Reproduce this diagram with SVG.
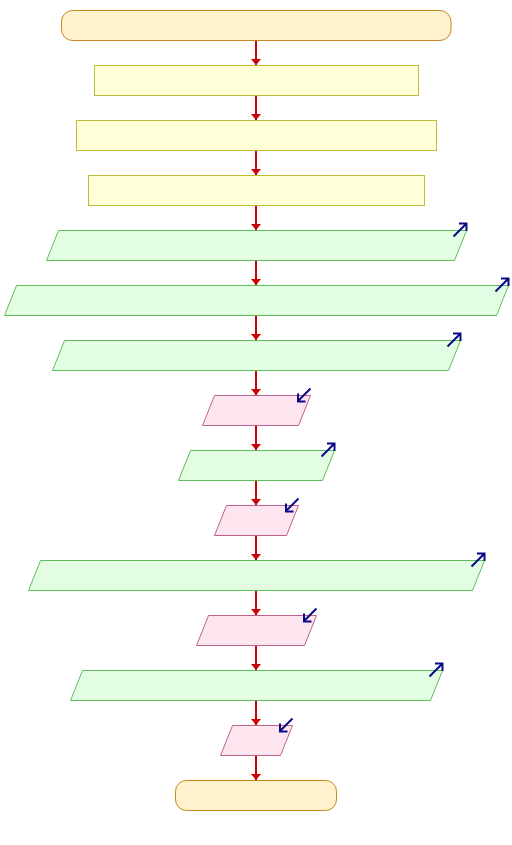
<svg xmlns="http://www.w3.org/2000/svg" width="512" height="845" viewBox="0 0 512 845">
<style>
.term{fill:#fff2cc;stroke:#c8861e;stroke-width:1}
.proc{fill:#ffffd8;stroke:#bdbd3a;stroke-width:1}
.out{fill:#e2fde2;stroke:#5cbf5c;stroke-width:1}
.in{fill:#fde5f0;stroke:#c0608c;stroke-width:1}
.io{stroke:#0a0a88;stroke-width:2;fill:none;stroke-linecap:butt}
.edge{stroke:#cc0000;stroke-width:2;fill:none}
</style>
<defs>
<marker id="ah" markerWidth="6" markerHeight="10" refX="6" refY="5" orient="auto" markerUnits="userSpaceOnUse">
<path d="M0,0 L6,5 L0,10 Z" fill="#cc0000"/>
</marker>
</defs>
<rect width="512" height="845" fill="#ffffff"/>
<g id="connectors">
<line class="edge" x1="256" y1="40.5" x2="256" y2="65" marker-end="url(#ah)"/>
<line class="edge" x1="256" y1="95.5" x2="256" y2="120" marker-end="url(#ah)"/>
<line class="edge" x1="256" y1="150.5" x2="256" y2="175" marker-end="url(#ah)"/>
<line class="edge" x1="256" y1="205.5" x2="256" y2="230" marker-end="url(#ah)"/>
<line class="edge" x1="256" y1="260.5" x2="256" y2="285" marker-end="url(#ah)"/>
<line class="edge" x1="256" y1="315.5" x2="256" y2="340" marker-end="url(#ah)"/>
<line class="edge" x1="256" y1="370.5" x2="256" y2="395" marker-end="url(#ah)"/>
<line class="edge" x1="256" y1="425.5" x2="256" y2="450" marker-end="url(#ah)"/>
<line class="edge" x1="256" y1="480.5" x2="256" y2="505" marker-end="url(#ah)"/>
<line class="edge" x1="256" y1="535.5" x2="256" y2="560" marker-end="url(#ah)"/>
<line class="edge" x1="256" y1="590.5" x2="256" y2="615" marker-end="url(#ah)"/>
<line class="edge" x1="256" y1="645.5" x2="256" y2="670" marker-end="url(#ah)"/>
<line class="edge" x1="256" y1="700.5" x2="256" y2="725" marker-end="url(#ah)"/>
<line class="edge" x1="256" y1="755.5" x2="256" y2="780" marker-end="url(#ah)"/>
</g>
<g id="start"><rect class="term" x="61.5" y="10.5" width="389.5" height="30" rx="11" ry="11"/></g>
<g id="p1"><rect class="proc" x="94.5" y="65.5" width="324" height="30"/></g>
<g id="p2"><rect class="proc" x="76.5" y="120.5" width="360" height="30"/></g>
<g id="p3"><rect class="proc" x="88.5" y="175.5" width="336" height="30"/></g>
<g id="o1"><polygon class="out" points="58.5,230.5 466.5,230.5 454.5,260.5 46.5,260.5"/>
<path class="io" d="M453.5,236.5 L466,224 M459,223.5 L466.5,223.5 L466.5,231"/></g>
<g id="o2"><polygon class="out" points="16.5,285.5 508.5,285.5 496.5,315.5 4.5,315.5"/>
<path class="io" d="M495.5,291.5 L508,279 M501,278.5 L508.5,278.5 L508.5,286"/></g>
<g id="o3"><polygon class="out" points="64.5,340.5 460.5,340.5 448.5,370.5 52.5,370.5"/>
<path class="io" d="M447.5,346.5 L460,334 M453,333.5 L460.5,333.5 L460.5,341"/></g>
<g id="i1"><polygon class="in" points="214.5,395.5 310.5,395.5 298.5,425.5 202.5,425.5"/>
<path class="io" d="M310.5,388.5 L298,401 M298,393.5 L298,401.5 L305.5,401.5"/></g>
<g id="o4"><polygon class="out" points="190.5,450.5 334.5,450.5 322.5,480.5 178.5,480.5"/>
<path class="io" d="M321.5,456.5 L334,444 M327,443.5 L334.5,443.5 L334.5,451"/></g>
<g id="i2"><polygon class="in" points="226.5,505.5 298.5,505.5 286.5,535.5 214.5,535.5"/>
<path class="io" d="M298.5,498.5 L286,511 M286,503.5 L286,511.5 L293.5,511.5"/></g>
<g id="o5"><polygon class="out" points="40.5,560.5 484.5,560.5 472.5,590.5 28.5,590.5"/>
<path class="io" d="M471.5,566.5 L484,554 M477,553.5 L484.5,553.5 L484.5,561"/></g>
<g id="i3"><polygon class="in" points="208.5,615.5 316.5,615.5 304.5,645.5 196.5,645.5"/>
<path class="io" d="M316.5,608.5 L304,621 M304,613.5 L304,621.5 L311.5,621.5"/></g>
<g id="o6"><polygon class="out" points="82.5,670.5 442.5,670.5 430.5,700.5 70.5,700.5"/>
<path class="io" d="M429.5,676.5 L442,664 M435,663.5 L442.5,663.5 L442.5,671"/></g>
<g id="i4"><polygon class="in" points="232.5,725.5 292.5,725.5 280.5,755.5 220.5,755.5"/>
<path class="io" d="M292.5,718.5 L280,731 M280,723.5 L280,731.5 L287.5,731.5"/></g>
<g id="end"><rect class="term" x="175.5" y="780.5" width="161" height="30" rx="11" ry="11"/></g>
</svg>
